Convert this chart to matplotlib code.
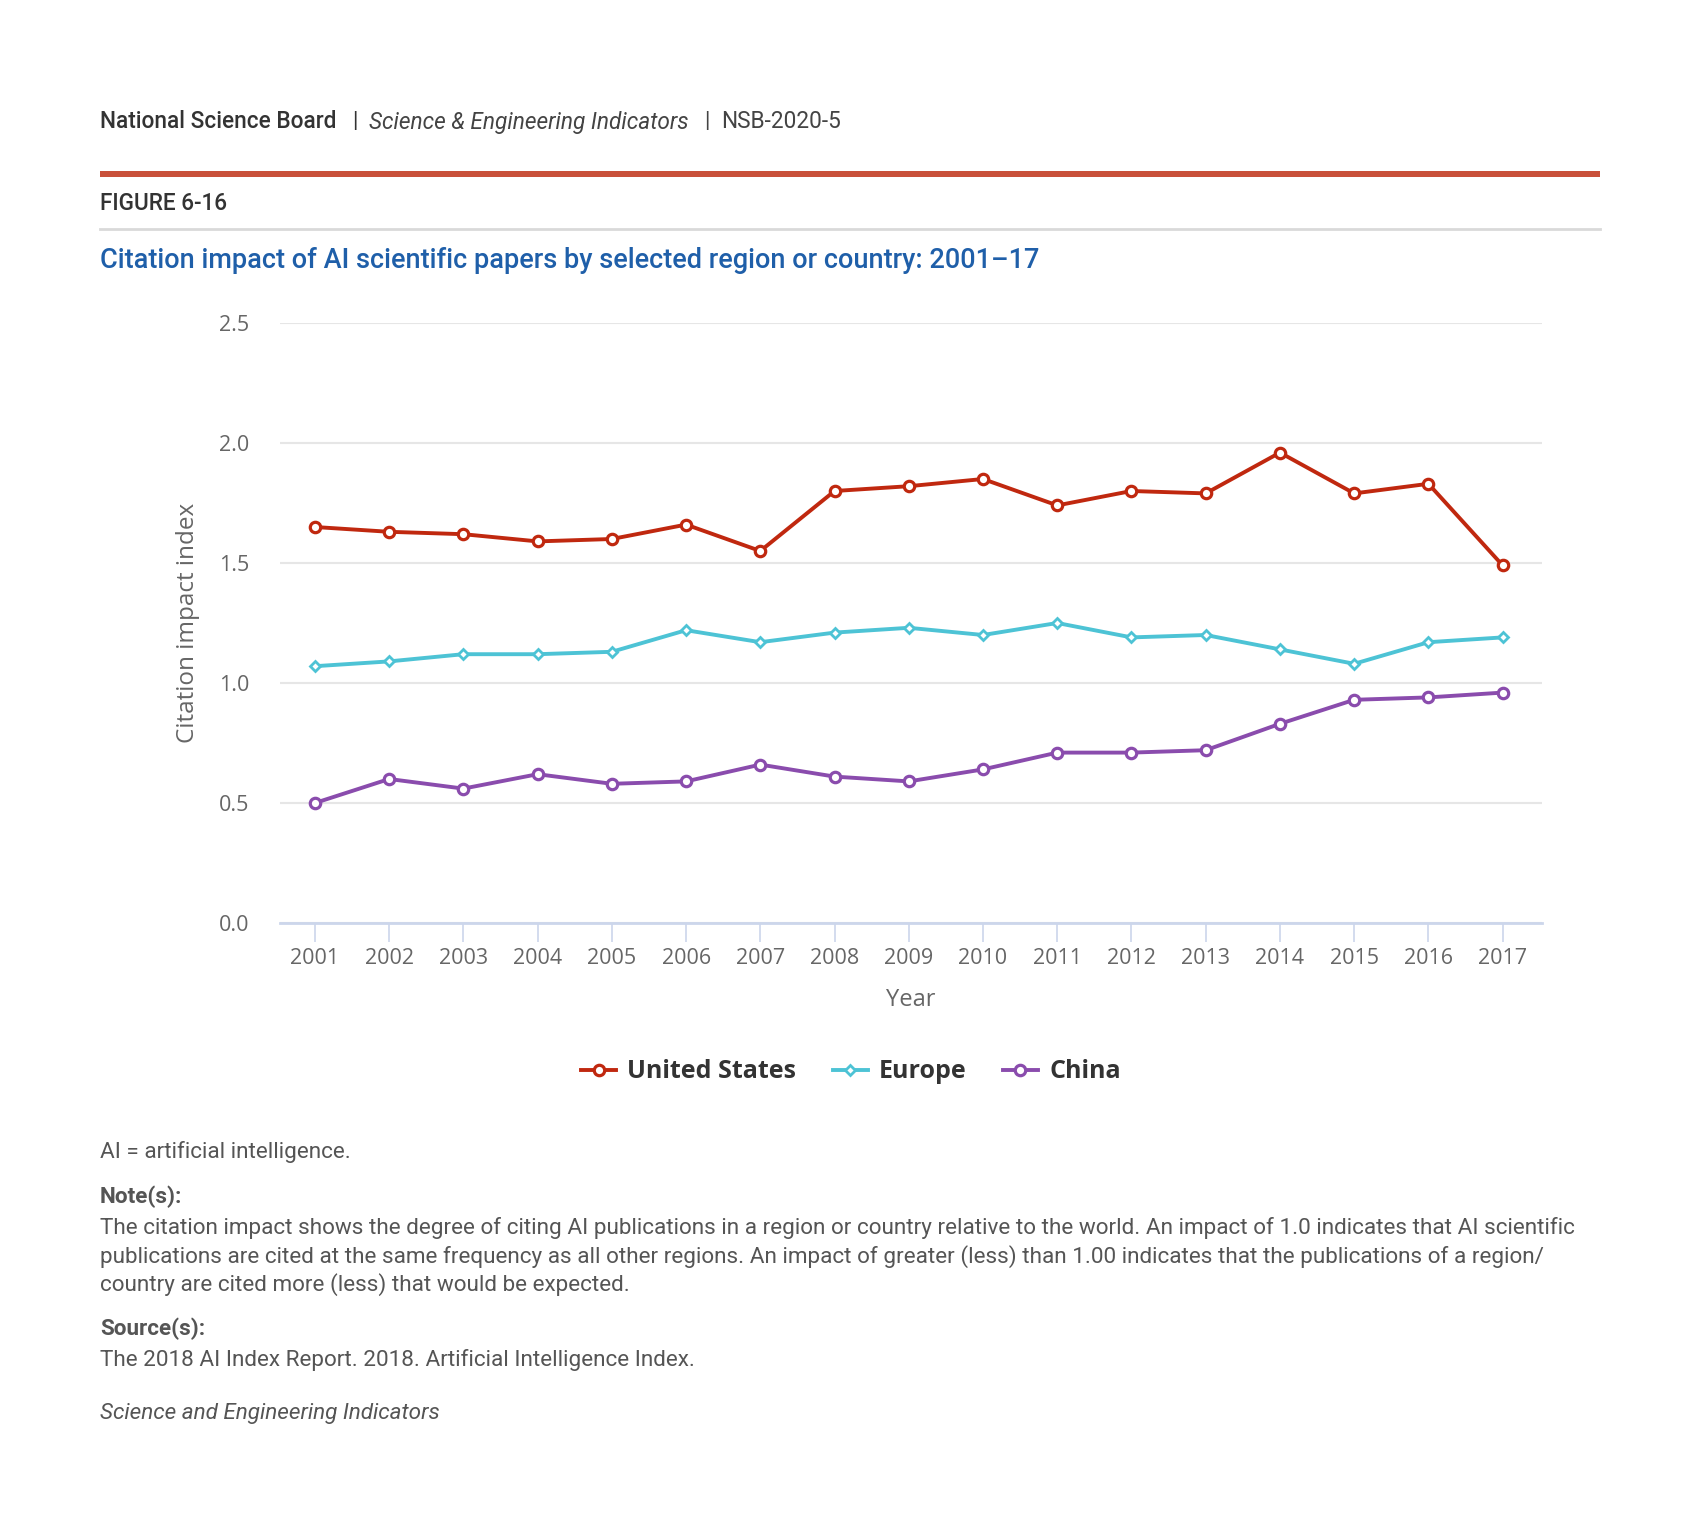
import matplotlib
matplotlib.use('Agg')
import matplotlib.pyplot as plt
from matplotlib.lines import Line2D
from matplotlib.patches import Rectangle

# -------------------------------------------------- #
years  = list(range(2001, 2018))
us     = [1.65, 1.63, 1.62, 1.59, 1.60, 1.66, 1.55, 1.80, 1.82, 1.85, 1.74, 1.80, 1.79, 1.96, 1.79, 1.83, 1.49]
europe = [1.07, 1.09, 1.12, 1.12, 1.13, 1.22, 1.17, 1.21, 1.23, 1.20, 1.25, 1.19, 1.20, 1.14, 1.08, 1.17, 1.19]
china  = [0.50, 0.60, 0.56, 0.62, 0.58, 0.59, 0.66, 0.61, 0.59, 0.64, 0.71, 0.71, 0.72, 0.83, 0.93, 0.94, 0.96]
series_names = ['United States', 'Europe', 'China']
yticks = [0.0, 0.5, 1.0, 1.5, 2.0, 2.5]

W, H = 1700, 1534
fig = plt.figure(figsize=(W / 100, H / 100), dpi=100)
fig.patch.set_facecolor('white')

def fx(px): return px / W
def fy(py): return 1 - py / H

# -------------------------------------------------- #
# header
hdr_y = fy(122)
fig.text(fx(100), hdr_y, 'National Science Board', family='Roboto', fontsize=16.3,
         weight='medium', color='#333333', va='center')
fig.text(fx(352), hdr_y, '|', family='Roboto', fontsize=16, color='#333333', va='center')
fig.text(fx(369), hdr_y, 'Science & Engineering Indicators', family='Roboto', fontsize=16.3,
         style='italic', color='#444444', va='center')
fig.text(fx(704), hdr_y, '|', family='Roboto', fontsize=16, color='#444444', va='center')
fig.text(fx(721), hdr_y, 'NSB-2020-5', family='Roboto', fontsize=16.3,
         color='#444444', va='center')

fig.add_artist(Rectangle((fx(100), fy(177)), fx(1500), 6 / H, color='#c9503a', lw=0))
fig.text(fx(100), fy(203), 'FIGURE 6-16', family='Roboto', fontsize=16.3, weight='medium',
         color='#333333', va='center')
fig.add_artist(Line2D([fx(100), fx(1600)], [fy(229), fy(229)], color='#d9d9d9', lw=2))
fig.text(fx(100), fy(261), 'Citation impact of AI scientific papers by selected region or country: 2001\u201317',
         family='Roboto', fontsize=19.5, weight='medium', color='#1f5fa9', va='center')

# -------------------------------------------------- #
# plot
ax = fig.add_axes([fx(280), fy(923), fx(1542) - fx(280), (923 - 323) / H])
ax.plot(years, us, color='#c0280f', lw=2.8, marker='o', ms=7.5, mfc='white', mew=2.3,
        label=series_names[0], zorder=3)
ax.plot(years, europe, color='#4dc3d5', lw=2.8, marker='D', ms=5.5, mfc='white', mew=2,
        label=series_names[1], zorder=3)
ax.plot(years, china, color='#8a4cad', lw=2.8, marker='o', ms=7.5, mfc='white', mew=2.3,
        label=series_names[2], zorder=3)

ax.set_xlim(2000.53, 2017.53)
ax.set_ylim(0, 2.5)
ax.set_yticks(yticks)
ax.set_yticklabels([f'{v:.1f}' for v in yticks])
ax.set_xticks(years)
ax.grid(axis='y', color='#e6e6e6', lw=1.5)
ax.set_axisbelow(True)
for s in ['top', 'right', 'left']:
    ax.spines[s].set_visible(False)
ax.spines['bottom'].set_color('#ccd6eb')
ax.spines['bottom'].set_linewidth(2)
ax.spines['bottom'].set_zorder(4)
ax.tick_params(axis='x', length=14, width=1.2, color='#ccd6eb', pad=4,
               labelsize=15.5, labelcolor='#666666')
ax.tick_params(axis='y', length=0, pad=22, labelsize=15.5, labelcolor='#666666')
for lab in ax.get_xticklabels() + ax.get_yticklabels():
    lab.set_family('Open Sans')

ax.set_xlabel('Year', family='Open Sans', fontsize=17, color='#666666', labelpad=14)
ax.set_ylabel('Citation impact index', family='Open Sans', fontsize=17.5, color='#666666',
              labelpad=14)

fig.legend(loc='center', bbox_to_anchor=(fx(851), fy(1072)), ncol=3, frameon=False,
           prop={'family': 'Open Sans', 'weight': 'bold', 'size': 18},
           labelcolor='#333333', handlelength=1.4, handletextpad=0.45, columnspacing=1.45)

# -------------------------------------------------- #
# notes
body = dict(family='Roboto', fontsize=16.2, color='#555555', va='center')
fig.text(fx(100), fy(1152), 'AI = artificial intelligence.', **body)
fig.text(fx(100), fy(1197), 'Note(s):', weight='bold', **body)
note_lines = [
    'The citation impact shows the degree of citing AI publications in a region or country relative to the world. An impact of 1.0 indicates that AI scientific',
    'publications are cited at the same frequency as all other regions. An impact of greater (less) than 1.00 indicates that the publications of a region/',
    'country are cited more (less) that would be expected.',
]
for i, line in enumerate(note_lines):
    fig.text(fx(100), fy(1228 + 28.5 * i), line, **body)
fig.text(fx(100), fy(1329), 'Source(s):', weight='bold', **body)
fig.text(fx(100), fy(1360), 'The 2018 AI Index Report. 2018. Artificial Intelligence Index.', **body)
fig.text(fx(100), fy(1413), 'Science and Engineering Indicators', style='italic', **body)

fig.savefig('out.png', dpi=100, facecolor='white')
